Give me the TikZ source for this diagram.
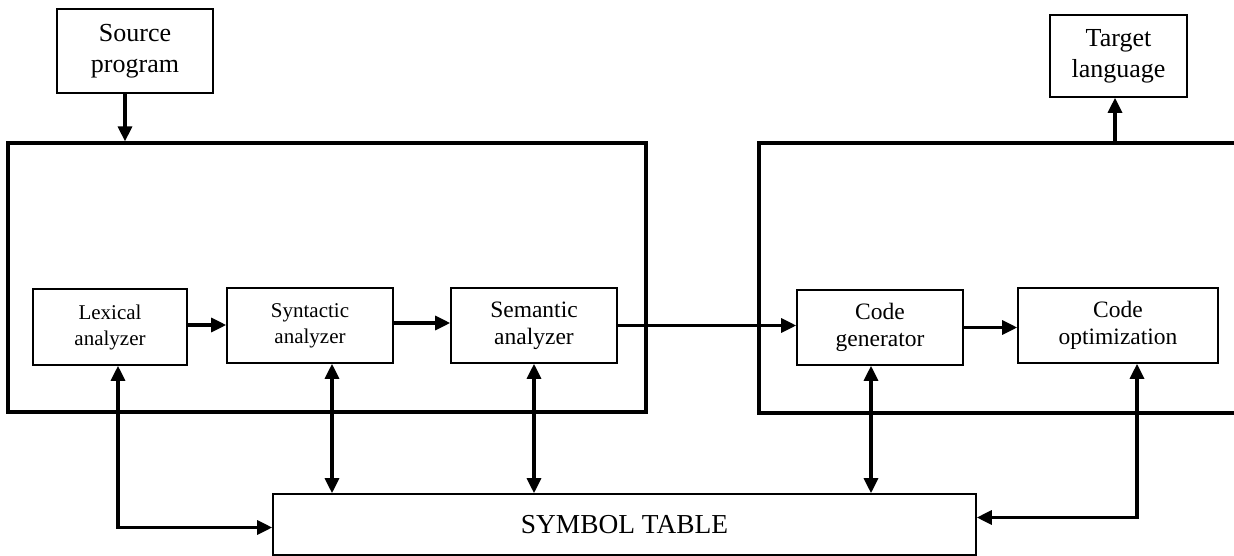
\documentclass[tikz,border=0pt]{standalone}
\usepackage{fontspec}
\setmainfont{Liberation Serif}
\usetikzlibrary{arrows.meta}
\begin{document}
\begin{tikzpicture}[x=1pt,y=-1pt,
  frame/.style={draw, line width=3.2pt, inner sep=0pt},
  stage/.style={draw, line width=1.6pt, inner sep=0pt, align=center},
  big/.style={font=\fontsize{26}{31}\selectfont},
  mid/.style={font=\fontsize{23.5}{27}\selectfont},
  small/.style={font=\fontsize{21}{26}\selectfont},
  tip/.style={Triangle[length=15pt,width=14pt]},
  arr/.style={line width=3.2pt, -{Triangle[length=15pt,width=14pt]}},
  dbl/.style={line width=3.2pt, {Triangle[length=15pt,width=14pt]}-{Triangle[length=15pt,width=14pt]}}]
\useasboundingbox (0,0) rectangle (1234,556);

% input and output
\node[stage, big, minimum width=156pt, minimum height=84pt] (src) at (135,51) {Source\\program};
\node[stage, big, minimum width=137pt, minimum height=82pt] (tgt) at (1118.5,56) {Target\\language};

% analysis part
\node[frame, minimum width=638pt, minimum height=269pt] (front) at (327,277.5) {};
\node[stage, small, minimum width=154pt, minimum height=76pt] (lex) at (110,327) {Lexical\\analyzer};
\node[stage, small, minimum width=166pt, minimum height=75pt] (syn) at (310,325.5) {Syntactic\\analyzer};
\node[stage, mid, minimum width=166pt, minimum height=75pt] (sem) at (534,325.5) {Semantic\\analyzer};

% synthesis part (open towards the right)
\draw[line width=3.2pt] (1234,143) -- (759,143) -- (759,413) -- (1234,413);
\coordinate (backtop) at (1115,143);
\node[stage, mid, minimum width=166pt, minimum height=75pt] (gen) at (880,327.5) {Code\\generator};
\node[stage, mid, minimum width=200pt, minimum height=75pt] (opt) at (1118,325.5) {Code\\optimization};

% symbol table
\node[stage, font=\fontsize{27.4}{32}\selectfont, minimum width=703pt, minimum height=61pt] (sym) at (624.5,524.5) {SYMBOL TABLE};

% flow
\draw[arr] ([xshift=-10pt]src.south) -- ([xshift=-10pt]src.south |- front.north);
\draw[arr] (backtop) -- (backtop |- tgt.south);
\draw[arr] ([yshift=2pt]lex.east) -- ([yshift=2pt]lex.east -| syn.west);
\draw[arr] ([yshift=2.5pt]syn.east) -- ([yshift=2.5pt]syn.east -| sem.west);
\draw[arr] (sem.east) -- (sem.east -| gen.west);
\draw[arr] (gen.east) -- (gen.east -| opt.west);

% symbol table access
\draw[dbl] ([xshift=8pt]lex.south) |- ([yshift=-3pt]sym.west);
\draw[dbl] ([xshift=22pt]syn.south) -- ([xshift=22pt]syn.south |- sym.north);
\draw[dbl] (sem.south) -- (sem.south |- sym.north);
\draw[dbl] ([xshift=-9pt]gen.south) -- ([xshift=-9pt]gen.south |- sym.north);
\draw[dbl] ([xshift=19pt]opt.south) |- ([yshift=7pt]sym.east);
\end{tikzpicture}
\end{document}
